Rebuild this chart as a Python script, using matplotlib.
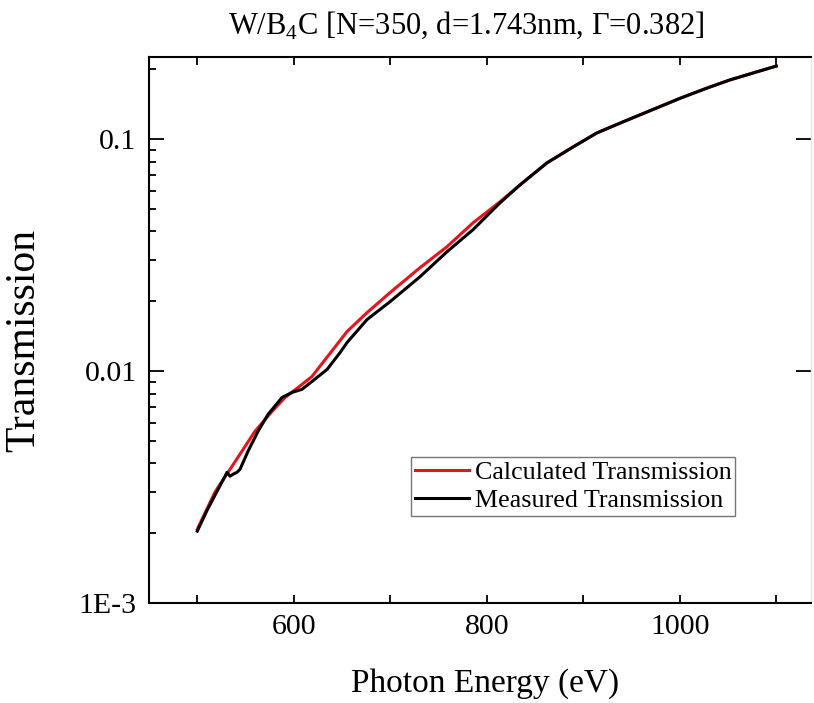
import matplotlib
matplotlib.use("Agg")
import matplotlib.pyplot as plt
from matplotlib.ticker import LogLocator, FixedFormatter, FixedLocator

plt.rcParams['font.family'] = ['Liberation Serif', 'DejaVu Serif']
plt.rcParams['mathtext.fontset'] = 'custom'
plt.rcParams['mathtext.rm'] = 'Liberation Serif'

# Calculated transmission (red)
calc_energy = [500, 518.4, 531.9, 542.2, 559.8, 577.5, 590.9, 604.4, 618.9, 655.2,
               675.9, 699.7, 730.8, 758.8, 785.8, 813.7, 834.5, 862.4, 889.4, 914.2,
               941.2, 966.1, 1000.3, 1028.2, 1052, 1075.9, 1100]
calc_trans = [2.08e-3, 3.01e-3, 3.66e-3, 4.25e-3, 5.50e-3, 6.70e-3, 7.69e-3, 8.49e-3,
              9.48e-3, 0.0148, 0.01786, 0.02178, 0.0279, 0.03437, 0.04356, 0.0537,
              0.0635, 0.079, 0.0925, 0.1064, 0.1187, 0.131, 0.150, 0.166, 0.180,
              0.1928, 0.2065]

# Measured transmission (black)
meas_energy = [500, 510, 520.5, 528.8, 530.8, 534, 537, 541.2, 544.3, 552.6, 563,
               573.3, 587.8, 598.2, 608.5, 618.9, 634.5, 647.9, 655.2, 675.9, 699.7,
               730.8, 758.8, 785.8, 813.7, 834.5, 862.4, 889.4, 914.2, 941.2, 966.1,
               1000.3, 1028.2, 1052, 1075.9, 1100]
meas_trans = [2.04e-3, 2.5e-3, 3.03e-3, 3.52e-3, 3.66e-3, 3.52e-3, 3.59e-3, 3.66e-3,
              3.77e-3, 4.51e-3, 5.50e-3, 6.50e-3, 7.69e-3, 8.09e-3, 8.34e-3, 9.02e-3,
              0.01016, 0.0120, 0.01327, 0.01667, 0.0199, 0.0255, 0.0327, 0.0407,
              0.0531, 0.0635, 0.079, 0.0925, 0.1064, 0.1187, 0.131, 0.150, 0.166,
              0.180, 0.1928, 0.2065]

title = r"W/B$_4$C [N=350, d=1.743nm, $\Gamma$=0.382]"
xlabel = "Photon Energy (eV)"
ylabel = "Transmission"
ytick_vals = [1e-3, 1e-2, 1e-1]
ytick_labels = ["1E-3", "0.01", "0.1"]

fig = plt.figure(figsize=(8.14, 7.03), dpi=100)
ax = fig.add_axes([149/814, 100/703, (811-149)/814, (603-57)/703])

ax.plot(calc_energy, calc_trans, color='#e8141c', lw=2.2, label='Calculated Transmission', zorder=2)
ax.plot(meas_energy, meas_trans, color='black', lw=2.2, label='Measured Transmission', zorder=3)

ax.set_yscale('log')
ax.set_xlim(450, 1136)
ax.set_ylim(1e-3, 0.226)

ax.xaxis.set_major_locator(FixedLocator([600, 800, 1000]))
ax.xaxis.set_minor_locator(FixedLocator([500, 700, 900, 1100]))
ax.yaxis.set_major_locator(FixedLocator(ytick_vals))
ax.yaxis.set_major_formatter(FixedFormatter(ytick_labels))
ax.yaxis.set_minor_locator(LogLocator(base=10, subs=range(2, 10)))
ax.yaxis.set_minor_formatter(FixedFormatter([]))

ax.tick_params(axis='x', which='both', direction='in', length=6, width=1.3,
               top=True, bottom=True, labelsize=21.5, pad=8)
ax.tick_params(axis='y', which='major', direction='in', length=11, width=1.3,
               left=True, right=True, labelsize=21.5, pad=9)
ax.tick_params(axis='y', which='minor', direction='in', length=5, width=1.3,
               left=True, right=False)

for s in ['left', 'bottom', 'top']:
    ax.spines[s].set_linewidth(1.5)
ax.spines['right'].set_color('#e6e6e6')
ax.spines['right'].set_linewidth(1.0)

ax.set_title(title, fontsize=22, pad=17, x=(466.5-149)/662)
ax.set_xlabel(xlabel, fontsize=24)
ax.xaxis.set_label_coords((485.5-149)/662, (603-668)/546)
ax.set_ylabel(ylabel, fontsize=30)
ax.yaxis.set_label_coords((43-149)/662, (603-340)/546)

leg = ax.legend(loc='lower left', bbox_to_anchor=((411-149)/662, (603-516)/546),
                fontsize=18.7, frameon=True, fancybox=False, edgecolor='#555555',
                handlelength=2.1, handletextpad=0.2, borderpad=0.15, labelspacing=0.2,
                borderaxespad=0)
leg.get_frame().set_linewidth(1.0)

fig.savefig('out.png', dpi=100)
